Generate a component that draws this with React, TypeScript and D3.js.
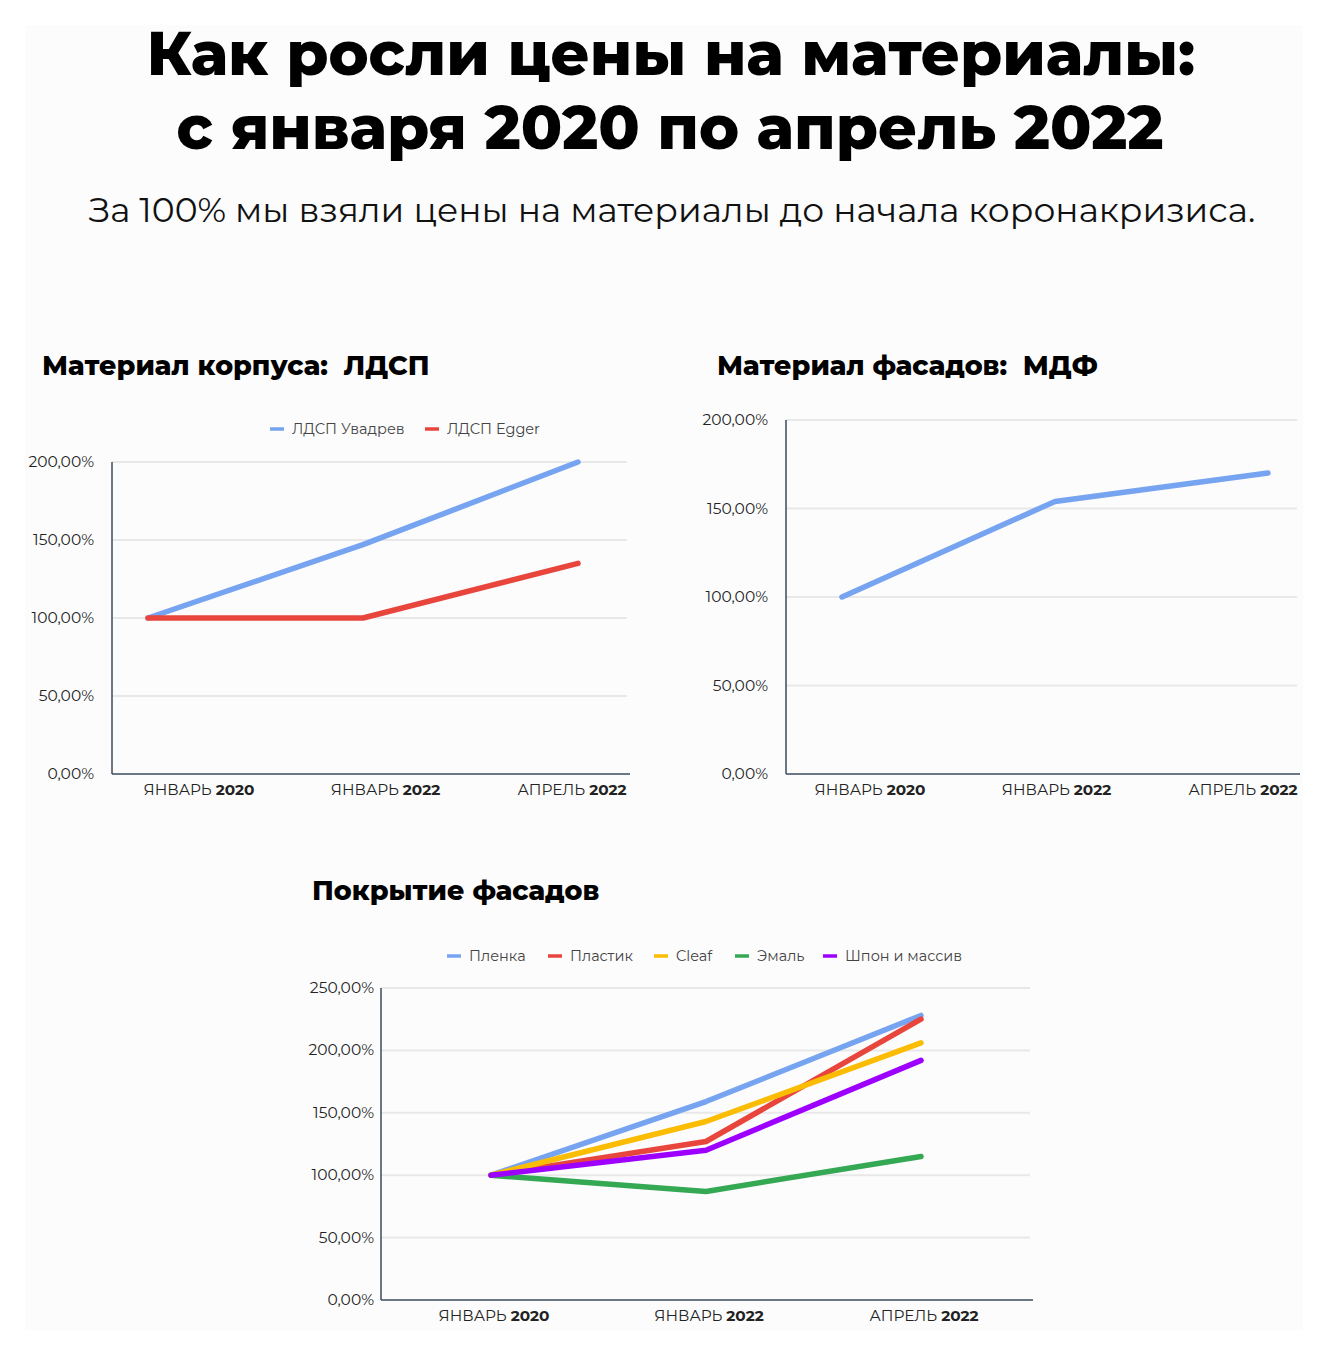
import React from 'react';
import * as d3 from 'd3';

// ---- data ----
const periods = ['ЯНВАРЬ 2020', 'ЯНВАРЬ 2022', 'АПРЕЛЬ 2022'];

const ldspSeries = ['ЛДСП Увадрев', 'ЛДСП Egger'];
const ldspUvadrev = [100, 147, 200];
const ldspEgger = [100, 100, 135];

const mdfSeries = ['МДФ'];
const mdfValues = [100, 154, 170];

const coverSeries = ['Пленка', 'Пластик', 'Cleaf', 'Эмаль', 'Шпон и массив'];
const coverPlenka = [100, 159, 228];
const coverPlastic = [100, 127, 225];
const coverCleaf = [100, 143, 206];
const coverEmal = [100, 87, 115];
const coverShpon = [100, 120, 192];

const ticks200 = [0, 50, 100, 150, 200];
const ticks250 = [0, 50, 100, 150, 200, 250];

const BLUE = '#77a4f0';
const RED = '#e8453c';
const YELLOW = '#fbbc04';
const GREEN = '#34a853';
const PURPLE = '#9d00ff';

const FONT = 'Montserrat, Inter, "Noto Sans", sans-serif';

const fmt = (v: number) => `${v},00%`;

interface Series {
  name: string;
  values: number[];
  color: string;
}

interface ChartProps {
  title: string;
  titleX: number;
  titleY: number;
  series: Series[];
  legend: boolean;
  legendX: number[];
  legendY: number;
  left: number;
  right: number;
  top: number;
  bottom: number;
  yMax: number;
  yTicks: number[];
  tickGap: number;
  pointRange: [number, number];
  labelRange: [number, number];
}

const LineChart: React.FC<ChartProps> = (p) => {
  const x = d3.scalePoint<string>().domain(periods).range(p.pointRange);
  const xl = d3.scalePoint<string>().domain(periods).range(p.labelRange);
  const y = d3.scaleLinear().domain([0, p.yMax]).range([p.bottom, p.top]);
  const line = d3
    .line<number>()
    .x((_, i) => x(periods[i]) as number)
    .y((d) => y(d));

  return (
    <g>
      <text
        x={p.titleX}
        y={p.titleY}
        fontSize={27}
        fontWeight={800}
        fill="#000"
        fontFamily={FONT}
        style={{ whiteSpace: 'pre' }}
      >
        {p.title}
      </text>
      {p.legend &&
        p.series.map((s, i) => (
          <g key={s.name}>
            <line
              x1={p.legendX[i]}
              x2={p.legendX[i] + 14}
              y1={p.legendY}
              y2={p.legendY}
              stroke={s.color}
              strokeWidth={3.5}
            />
            <text x={p.legendX[i] + 22} y={p.legendY + 5} fontSize={14.5} fill="#444" fontFamily={FONT}>
              {s.name}
            </text>
          </g>
        ))}
      {p.yTicks.map((t) => (
        <g key={t}>
          {t > 0 && (
            <line x1={p.left} x2={p.right} y1={y(t)} y2={y(t)} stroke="#e8e8e8" strokeWidth={2} />
          )}
          <text
            x={p.left - p.tickGap}
            y={y(t) + 5}
            textAnchor="end"
            fontSize={15.5}
            fill="#222"
            fontFamily={FONT}
          >
            {fmt(t)}
          </text>
        </g>
      ))}
      <line x1={p.left} x2={p.left} y1={p.top} y2={p.bottom} stroke="#3b4b5c" strokeWidth={1.5} />
      <line x1={p.left} x2={p.right + 3} y1={p.bottom} y2={p.bottom} stroke="#3b4b5c" strokeWidth={1.5} />
      {periods.map((c) => {
        const [month, year] = c.split(' ');
        return (
          <text
            key={c}
            x={xl(c)}
            y={p.bottom + 21}
            textAnchor="middle"
            fontSize={15.3}
            fill="#222"
            fontFamily={FONT}
          >
            {month} <tspan fontWeight={700}>{year}</tspan>
          </text>
        );
      })}
      {p.series.map((s) => (
        <path
          key={s.name}
          d={line(s.values) || ''}
          fill="none"
          stroke={s.color}
          strokeWidth={5.5}
          strokeLinecap="round"
          strokeLinejoin="round"
        />
      ))}
    </g>
  );
};

export default function App() {
  const ldsp: Series[] = [
    { name: ldspSeries[0], values: ldspUvadrev, color: BLUE },
    { name: ldspSeries[1], values: ldspEgger, color: RED },
  ];
  const mdf: Series[] = [{ name: mdfSeries[0], values: mdfValues, color: BLUE }];
  const cover: Series[] = [
    { name: coverSeries[0], values: coverPlenka, color: BLUE },
    { name: coverSeries[1], values: coverPlastic, color: RED },
    { name: coverSeries[2], values: coverCleaf, color: YELLOW },
    { name: coverSeries[3], values: coverEmal, color: GREEN },
    { name: coverSeries[4], values: coverShpon, color: PURPLE },
  ];

  return (
    <svg
      width={1328}
      height={1355}
      style={{ position: 'absolute', left: 0, top: 0, background: '#fff' }}
    >
      <rect x={25} y={25} width={1278} height={1305} fill="#fcfcfc" />
      <text x={671} y={75} textAnchor="middle" fontSize={60.6} fontWeight={800} fontFamily={FONT}>
        Как росли цены на материалы:
      </text>
      <text x={670} y={149} textAnchor="middle" fontSize={60.6} fontWeight={800} fontFamily={FONT}>
        с января 2020 по апрель 2022
      </text>
      <text x={672} y={222} textAnchor="middle" fontSize={34.5} fontWeight={400} fill="#111" fontFamily={FONT}>
        За 100% мы взяли цены на материалы до начала коронакризиса.
      </text>

      <LineChart
        title="Материал корпуса:  ЛДСП"
        titleX={42}
        titleY={375}
        series={ldsp}
        legend
        legendX={[270, 425]}
        legendY={429}
        left={112}
        right={627}
        top={462}
        bottom={774}
        yMax={200}
        yTicks={ticks200}
        tickGap={18}
        pointRange={[148, 578]}
        labelRange={[199, 572]}
      />
      <LineChart
        title="Материал фасадов:  МДФ"
        titleX={717}
        titleY={375}
        series={mdf}
        legend={false}
        legendX={[]}
        legendY={0}
        left={786}
        right={1297}
        top={420}
        bottom={774}
        yMax={200}
        yTicks={ticks200}
        tickGap={18}
        pointRange={[842, 1268]}
        labelRange={[870, 1243]}
      />
      <LineChart
        title="Покрытие фасадов"
        titleX={312}
        titleY={900}
        series={cover}
        legend
        legendX={[447, 548, 654, 735, 823]}
        legendY={956}
        left={381}
        right={1030}
        top={988}
        bottom={1300}
        yMax={250}
        yTicks={ticks250}
        tickGap={7}
        pointRange={[491, 921]}
        labelRange={[494, 924]}
      />
    </svg>
  );
}
